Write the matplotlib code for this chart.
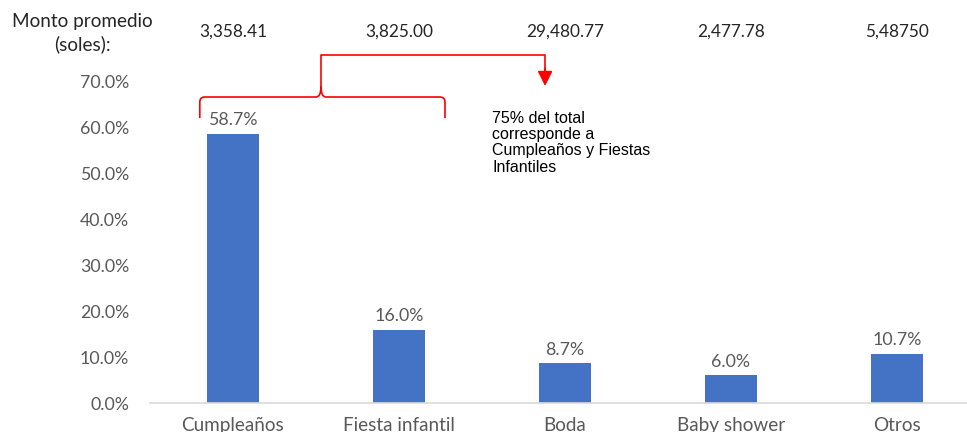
import matplotlib.pyplot as plt
from matplotlib.path import Path
from matplotlib.patches import PathPatch

categorias = ['Cumpleaños', 'Fiesta infantil', 'Boda', 'Baby shower', 'Otros']
porcentajes = [0.587, 0.160, 0.087, 0.060, 0.107]
montos = ['3,358.41', '3,825.00', '29,480.77', '2,477.78', '5,48750']
nota = '75% del total\ncorresponde a\nCumpleaños y Fiestas\nInfantiles'

plt.rcParams['font.family'] = ['Lato', 'DejaVu Sans']

fig = plt.figure(figsize=(9.67, 4.32), dpi=100)
ax = fig.add_axes([150 / 967, 29 / 432, 830 / 967, 367 / 432])

x = range(len(categorias))
bars = ax.bar(x, porcentajes, width=0.31, color='#4472C4')

ax.set_xlim(-0.5, 4.5)
ax.set_ylim(0, 0.8)
ax.set_yticks([i / 10 for i in range(8)])
ax.set_yticklabels([f'{i * 10:.1f}%' for i in range(8)])
ax.set_xticks(list(x))
ax.set_xticklabels(categorias)
ax.tick_params(axis='y', length=0, pad=15, labelsize=12.8, labelcolor='#595959')
ax.tick_params(axis='x', length=0, pad=10, labelsize=13.6, labelcolor='#595959')
for s in ax.spines.values():
    s.set_visible(False)
ax.axhline(0, color='#D9D9D9', lw=1.2, clip_on=False)

# etiquetas de las barras
for b, v in zip(bars, porcentajes):
    ax.annotate(f'{v * 100:.1f}%', (b.get_x() + b.get_width() / 2, v),
                xytext=(0, 4), textcoords='offset points',
                ha='center', va='bottom', fontsize=12.8, color='#595959')

# fila de montos promedio
for i, m in enumerate(montos):
    ax.text(i, 0.809, m, ha='center', va='center', fontsize=12.4, color='#262626')
fig.text(82 / 967, 1 - 21 / 432, 'Monto promedio', ha='center', va='center',
         fontsize=13.6, color='#262626')
fig.text(82 / 967, 1 - 44 / 432, '(soles):', ha='center', va='center',
         fontsize=13.6, color='#262626')

# llave roja sobre las dos primeras barras
x0, x1, xc = -0.2, 1.277, 0.53
yb, yh, yt = 0.621, 0.667, 0.690
rx, ry = 0.03, 0.011
verts = [(x0, yb), (x0, yh - ry), (x0, yh), (x0 + rx, yh),
         (xc - rx, yh), (xc, yh), (xc, yt),
         (xc, yh), (xc + rx, yh),
         (x1 - rx, yh), (x1, yh), (x1, yh - ry), (x1, yb)]
codes = [Path.MOVETO, Path.LINETO, Path.CURVE3, Path.CURVE3,
         Path.LINETO, Path.CURVE3, Path.CURVE3,
         Path.CURVE3, Path.CURVE3,
         Path.LINETO, Path.CURVE3, Path.CURVE3, Path.LINETO]
ax.add_patch(PathPatch(Path(verts, codes), fill=False, edgecolor='#FF0000', lw=1.2))

ytop, xa = 0.759, 1.88
ax.plot([xc, xc, xa, xa], [yt, ytop, ytop, 0.72], color='#FF0000', lw=1.2)
ax.annotate('', xy=(xa, 0.691), xytext=(xa, 0.73),
            arrowprops=dict(arrowstyle='-|>,head_length=0.9,head_width=0.45',
                            color='#FF0000', lw=1.2, shrinkA=0, shrinkB=0))

ax.text(492, 432 - 111, nota, transform=None, fontsize=11.5,
        family='Liberation Sans', va='top', ha='left', linespacing=1.1)

fig.savefig('out.png', dpi=100)
